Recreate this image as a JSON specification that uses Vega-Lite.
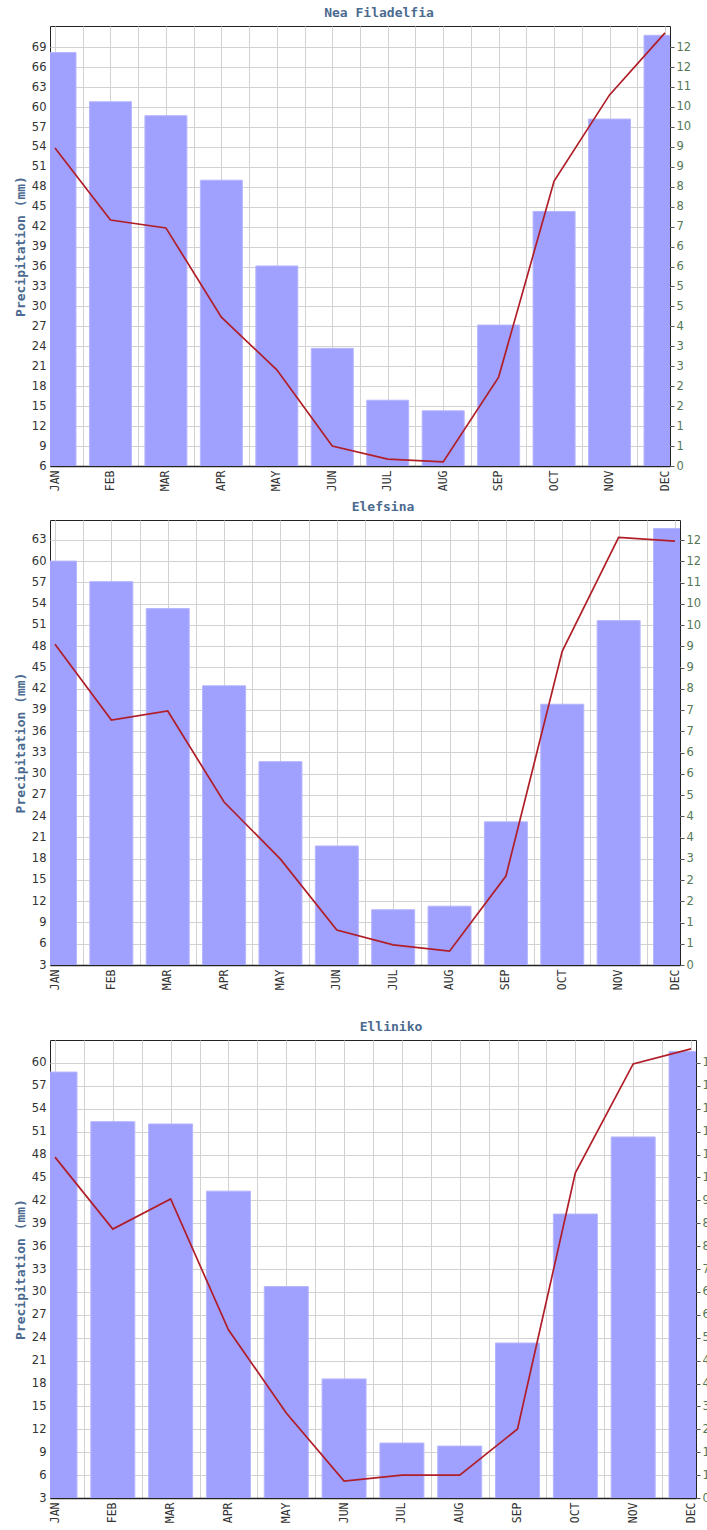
{
  "$schema": "https://vega.github.io/schema/vega-lite/v6.json",
  "background": "white",
  "padding": {"left": 13, "top": 6, "right": 0, "bottom": 0},
  "datasets": {
    "rain": [
      {"station": "Nea Filadelfia", "month": 0, "precip": 68.2, "days": 9.23},
      {"station": "Nea Filadelfia", "month": 1, "precip": 60.8, "days": 7.14},
      {"station": "Nea Filadelfia", "month": 2, "precip": 58.7, "days": 6.91},
      {"station": "Nea Filadelfia", "month": 3, "precip": 49.0, "days": 4.32},
      {"station": "Nea Filadelfia", "month": 4, "precip": 36.1, "days": 2.79},
      {"station": "Nea Filadelfia", "month": 5, "precip": 23.7, "days": 0.58},
      {"station": "Nea Filadelfia", "month": 6, "precip": 15.9, "days": 0.20},
      {"station": "Nea Filadelfia", "month": 7, "precip": 14.3, "days": 0.12},
      {"station": "Nea Filadelfia", "month": 8, "precip": 27.2, "days": 2.58},
      {"station": "Nea Filadelfia", "month": 9, "precip": 44.3, "days": 8.27},
      {"station": "Nea Filadelfia", "month": 10, "precip": 58.2, "days": 10.77},
      {"station": "Nea Filadelfia", "month": 11, "precip": 70.8, "days": 12.57},
      {"station": "Elefsina", "month": 0, "precip": 60.0, "days": 9.27},
      {"station": "Elefsina", "month": 1, "precip": 57.1, "days": 7.08},
      {"station": "Elefsina", "month": 2, "precip": 53.3, "days": 7.34},
      {"station": "Elefsina", "month": 3, "precip": 42.4, "days": 4.71},
      {"station": "Elefsina", "month": 4, "precip": 31.7, "days": 3.06},
      {"station": "Elefsina", "month": 5, "precip": 19.8, "days": 1.01},
      {"station": "Elefsina", "month": 6, "precip": 10.8, "days": 0.58},
      {"station": "Elefsina", "month": 7, "precip": 11.3, "days": 0.40},
      {"station": "Elefsina", "month": 8, "precip": 23.2, "days": 2.57},
      {"station": "Elefsina", "month": 9, "precip": 39.8, "days": 9.07},
      {"station": "Elefsina", "month": 10, "precip": 51.6, "days": 12.36},
      {"station": "Elefsina", "month": 11, "precip": 64.6, "days": 12.25},
      {"station": "Elliniko", "month": 0, "precip": 58.8, "days": 10.42},
      {"station": "Elliniko", "month": 1, "precip": 52.3, "days": 8.22},
      {"station": "Elliniko", "month": 2, "precip": 52.0, "days": 9.14},
      {"station": "Elliniko", "month": 3, "precip": 43.2, "days": 5.14},
      {"station": "Elliniko", "month": 4, "precip": 30.7, "days": 2.60},
      {"station": "Elliniko", "month": 5, "precip": 18.6, "days": 0.52},
      {"station": "Elliniko", "month": 6, "precip": 10.2, "days": 0.70},
      {"station": "Elliniko", "month": 7, "precip": 9.8, "days": 0.70},
      {"station": "Elliniko", "month": 8, "precip": 23.3, "days": 2.11},
      {"station": "Elliniko", "month": 9, "precip": 40.2, "days": 9.94},
      {"station": "Elliniko", "month": 10, "precip": 50.3, "days": 13.27},
      {"station": "Elliniko", "month": 11, "precip": 61.5, "days": 13.73}
    ]
  },
  "config": {
    "view": {"stroke": "#222222", "strokeWidth": 1},
    "title": {"font": "DejaVu Sans Mono", "fontSize": 13, "fontWeight": "bold", "color": "#4b6a8f", "anchor": "middle", "offset": 6},
    "axis": {"gridColor": "#d2d2d2", "gridWidth": 1, "gridOpacity": 1},
    "axisX": {
      "labelFont": "DejaVu Sans Mono", "labelFontSize": 11.5, "labelColor": "#333333",
      "labelAngle": -90, "labelPadding": 4, "labelOverlap": false, "labelFlush": false, "labelBound": false,
      "ticks": false, "domainColor": "#222222", "domainWidth": 1.5, "grid": true,
      "values": [0, 0.5, 1, 1.5, 2, 2.5, 3, 3.5, 4, 4.5, 5, 5.5, 6, 6.5, 7, 7.5, 8, 8.5, 9, 9.5, 10, 10.5, 11],
      "labelExpr": "datum.value % 1 == 0 ? ['JAN','FEB','MAR','APR','MAY','JUN','JUL','AUG','SEP','OCT','NOV','DEC'][datum.value] : ''",
      "title": null
    },
    "axisLeft": {
      "labelFont": "DejaVu Sans", "labelFontSize": 11.5, "labelColor": "#333333", "labelPadding": 4,
      "ticks": false, "domain": false, "grid": true, "labelOverlap": false, "labelFlush": false,
      "titleFont": "DejaVu Sans Mono", "titleFontSize": 13, "titleFontWeight": "bold", "titleColor": "#4b6a8f", "titlePadding": 4
    },
    "axisRight": {
      "labelFont": "DejaVu Sans", "labelFontSize": 11.5, "labelColor": "#557755", "labelPadding": 2,
      "ticks": true, "tickSize": 4, "tickColor": "#555555", "domain": false, "grid": false,
      "labelOverlap": false, "labelFlush": false, "format": ".0f", "title": null
    }
  },
  "vconcat": [
    {
      "spacing": 8,
      "vconcat": [
        {
          "title": {"text": "Nea Filadelfia", "dx": 19},
          "width": 620, "height": 440,
          "data": {"name": "rain"},
          "transform": [{"filter": "datum.station == 'Nea Filadelfia'"}],
          "layer": [
            {
              "mark": {"type": "bar", "size": 42, "clip": true, "color": "#a0a0ff", "stroke": "#b6b6ff", "strokeWidth": 1},
              "encoding": {
                "x": {"field": "month", "type": "quantitative", "scale": {"domain": [0, 11], "nice": false, "zero": false}},
                "y": {"field": "precip", "type": "quantitative", "scale": {"domain": [6, 72.2], "nice": false, "zero": false},
                  "axis": {"orient": "left", "title": "Precipitation (mm)", "values": [6, 9, 12, 15, 18, 21, 24, 27, 30, 33, 36, 39, 42, 45, 48, 51, 54, 57, 60, 63, 66, 69]}}
              }
            },
            {
              "mark": {"type": "line", "color": "#b01e28", "strokeWidth": 1.7, "clip": true},
              "encoding": {
                "x": {"field": "month", "type": "quantitative"},
                "y": {"field": "days", "type": "quantitative", "scale": {"domain": [0, 12.77], "nice": false, "zero": false},
                  "axis": {"orient": "right", "values": [0, 0.579, 1.158, 1.737, 2.316, 2.895, 3.474, 4.053, 4.632, 5.211, 5.79, 6.369, 6.948, 7.527, 8.106, 8.685, 9.264, 9.843, 10.422, 11.001, 11.58, 12.159]}}
              }
            }
          ],
          "resolve": {"scale": {"y": "independent"}}
        },
        {
          "title": {"text": "Elefsina", "dx": 18},
          "width": 630, "height": 445,
          "data": {"name": "rain"},
          "transform": [{"filter": "datum.station == 'Elefsina'"}],
          "layer": [
            {
              "mark": {"type": "bar", "size": 43, "clip": true, "color": "#a0a0ff", "stroke": "#b6b6ff", "strokeWidth": 1},
              "encoding": {
                "x": {"field": "month", "type": "quantitative", "scale": {"domain": [0, 11], "nice": false, "zero": false}},
                "y": {"field": "precip", "type": "quantitative", "scale": {"domain": [3, 65.8], "nice": false, "zero": false},
                  "axis": {"orient": "left", "title": "Precipitation (mm)", "values": [3, 6, 9, 12, 15, 18, 21, 24, 27, 30, 33, 36, 39, 42, 45, 48, 51, 54, 57, 60, 63]}}
              }
            },
            {
              "mark": {"type": "line", "color": "#b01e28", "strokeWidth": 1.7, "clip": true},
              "encoding": {
                "x": {"field": "month", "type": "quantitative"},
                "y": {"field": "days", "type": "quantitative", "scale": {"domain": [0, 12.86], "nice": false, "zero": false},
                  "axis": {"orient": "right", "values": [0, 0.614, 1.228, 1.842, 2.456, 3.07, 3.684, 4.298, 4.912, 5.526, 6.14, 6.754, 7.368, 7.982, 8.596, 9.21, 9.824, 10.438, 11.052, 11.666, 12.28]}}
              }
            }
          ],
          "resolve": {"scale": {"y": "independent"}}
        }
      ]
    },
    {
      "title": {"text": "Elliniko", "dx": 18},
      "width": 646, "height": 458,
      "data": {"name": "rain"},
      "transform": [{"filter": "datum.station == 'Elliniko'"}],
      "layer": [
        {
          "mark": {"type": "bar", "size": 44, "clip": true, "color": "#a0a0ff", "stroke": "#b6b6ff", "strokeWidth": 1},
          "encoding": {
            "x": {"field": "month", "type": "quantitative", "scale": {"domain": [0, 11], "nice": false, "zero": false}},
            "y": {"field": "precip", "type": "quantitative", "scale": {"domain": [3, 63.0], "nice": false, "zero": false},
              "axis": {"orient": "left", "title": "Precipitation (mm)", "values": [3, 6, 9, 12, 15, 18, 21, 24, 27, 30, 33, 36, 39, 42, 45, 48, 51, 54, 57, 60]}}
          }
        },
        {
          "mark": {"type": "line", "color": "#b01e28", "strokeWidth": 1.7, "clip": true},
          "encoding": {
            "x": {"field": "month", "type": "quantitative"},
            "y": {"field": "days", "type": "quantitative", "scale": {"domain": [0, 14.0], "nice": false, "zero": false},
              "axis": {"orient": "right", "values": [0, 0.7, 1.4, 2.1, 2.8, 3.5, 4.2, 4.9, 5.6, 6.3, 7, 7.7, 8.4, 9.1, 9.8, 10.5, 11.2, 11.9, 12.6, 13.3]}}
          }
        }
      ],
      "resolve": {"scale": {"y": "independent"}}
    }
  ],
  "spacing": 29
}
